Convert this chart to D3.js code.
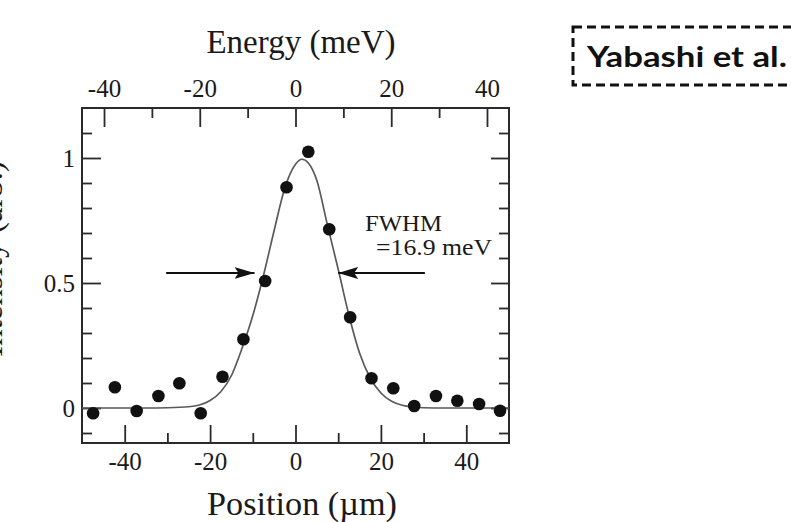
<!DOCTYPE html>
<html>
<head>
<meta charset="utf-8">
<script src="https://cdn.jsdelivr.net/npm/d3@7"></script>
<style>
  html, body { margin: 0; padding: 0; background: #fff; }
  svg { display: block; }
</style>
</head>
<body>
<svg id="chart" width="791" height="522"></svg>
<script>
// Measured intensity at each slit position (µm)
const positionUm = [-47.4, -42.3, -37.2, -32.1, -27.2, -22.2, -17.1, -12.2, -7.1, -2.1,
                    3.0, 7.9, 12.8, 17.8, 22.9, 27.8, 32.9, 37.9, 43.0, 47.9];
const intensity  = [-0.021, 0.083, -0.012, 0.048, 0.099, -0.021, 0.125, 0.275, 0.508, 0.883,
                    1.025, 0.715, 0.363, 0.119, 0.079, 0.008, 0.048, 0.029, 0.016, -0.011];

// Fitted profile
const fitX = [-50, -35, -30, -25, -22.5, -20, -17.5, -15, -12.5, -10, -7.5, -5, -2.5, 0, 1.5,
              3, 5, 7.5, 10, 12.5, 15, 17.5, 20, 22.5, 25, 27.5, 30, 35, 50];
const fitY = [0, 0, 0.001, 0.005, 0.012, 0.03, 0.065, 0.13, 0.24, 0.37, 0.53, 0.71, 0.88, 0.975, 0.995,
              0.98, 0.91, 0.73, 0.555, 0.372, 0.22, 0.12, 0.06, 0.027, 0.011, 0.004, 0.001, 0, 0];

// Axis ticks
const posMajor = [-40, -20, 0, 20, 40];
const posMinor = [-30, -10, 10, 30];
const enMajor = [-40, -20, 0, 20, 40];
const enMinor = [-30, -10, 10, 30];
const intMajor = [0, 0.5, 1];
const intMinor = [-0.1, 0.1, 0.2, 0.3, 0.4, 0.6, 0.7, 0.8, 0.9, 1.1];

// FWHM annotation (half-maximum marker level and arrow extents in µm)
const fwhmLevel = 0.54;
const leftArrow = [-30.3, -9.6];
const rightArrow = [30.3, 10.0];
const fwhmText = ["FWHM", "=16.9 meV"];

const svg = d3.select("#chart");
const L = 82, R = 509, T = 108, B = 443;

const x = d3.scaleLinear().domain([-50, 50]).range([L, R]);
const xE = d3.scaleLinear().domain([-44.6, 44.6]).range([L, R]);
const y = d3.scaleLinear().domain([-0.14, 1.2]).range([B, T]);

const serif = "'Liberation Serif', 'Times New Roman', serif";
const ink = "#2a2a2a";

function styleAxis(g, fontSize) {
  g.select(".domain").remove();
  g.selectAll(".tick line").attr("stroke", ink).attr("stroke-width", 1.8);
  g.selectAll(".tick text").attr("font-family", serif).attr("font-size", fontSize).attr("fill", "#1a1a1a");
}
const fmt = d => (d < 0 ? "-" : "") + Math.abs(d);

// Bottom (position) axis
svg.append("g").attr("transform", `translate(0,${B})`)
  .call(d3.axisBottom(x).tickValues(posMajor).tickSize(-18).tickPadding(9).tickFormat(fmt))
  .call(g => styleAxis(g, 25));
svg.append("g").attr("transform", `translate(0,${B})`)
  .call(d3.axisBottom(x).tickValues(posMinor).tickSize(-10).tickFormat(""))
  .call(g => styleAxis(g, 25));

// Top (energy) axis
svg.append("g").attr("transform", `translate(0,${T})`)
  .call(d3.axisTop(xE).tickValues(enMajor).tickSize(-19).tickPadding(11).tickFormat(fmt))
  .call(g => styleAxis(g, 25));
svg.append("g").attr("transform", `translate(0,${T})`)
  .call(d3.axisTop(xE).tickValues(enMinor).tickSize(-10).tickFormat(""))
  .call(g => styleAxis(g, 25));

// Left axis
svg.append("g").attr("transform", `translate(${L},0)`)
  .call(d3.axisLeft(y).tickValues(intMajor).tickSize(-19).tickPadding(7).tickFormat(d3.format("")))
  .call(g => styleAxis(g, 25));
svg.append("g").attr("transform", `translate(${L},0)`)
  .call(d3.axisLeft(y).tickValues(intMinor).tickSize(-10).tickFormat(""))
  .call(g => styleAxis(g, 25));

// Right axis (ticks only)
svg.append("g").attr("transform", `translate(${R},0)`)
  .call(d3.axisRight(y).tickValues(intMajor).tickSize(-18).tickFormat(""))
  .call(g => styleAxis(g, 25));
svg.append("g").attr("transform", `translate(${R},0)`)
  .call(d3.axisRight(y).tickValues(intMinor).tickSize(-10).tickFormat(""))
  .call(g => styleAxis(g, 25));

// Frame
svg.append("rect")
  .attr("x", L).attr("y", T).attr("width", R - L).attr("height", B - T)
  .attr("fill", "none").attr("stroke", ink).attr("stroke-width", 2);

// Fit curve
const line = d3.line().x(d => x(d[0])).y(d => y(d[1])).curve(d3.curveMonotoneX);
svg.append("path")
  .datum(fitX.map((v, i) => [v, fitY[i]]))
  .attr("d", line)
  .attr("fill", "none").attr("stroke", "#5a5a5a").attr("stroke-width", 1.7);

// Data points
svg.append("g").selectAll("circle")
  .data(positionUm.map((v, i) => [v, intensity[i]]))
  .join("circle")
  .attr("cx", d => x(d[0])).attr("cy", d => y(d[1])).attr("r", 6.3)
  .attr("fill", "#111");

// FWHM arrows
svg.append("defs").append("marker")
  .attr("id", "head").attr("viewBox", "0 0 20 12")
  .attr("refX", 20).attr("refY", 6)
  .attr("markerWidth", 20).attr("markerHeight", 12)
  .attr("markerUnits", "userSpaceOnUse").attr("orient", "auto")
  .append("path").attr("d", "M0,0 L20,6 L0,12 L4,6 Z").attr("fill", "#111");

[leftArrow, rightArrow].forEach(a => {
  svg.append("line")
    .attr("x1", x(a[0])).attr("x2", x(a[1]))
    .attr("y1", y(fwhmLevel)).attr("y2", y(fwhmLevel))
    .attr("stroke", "#111").attr("stroke-width", 2)
    .attr("marker-end", "url(#head)");
});

svg.append("text").attr("x", 365).attr("y", 231)
  .attr("font-family", serif).attr("font-size", 24).attr("fill", "#1a1a1a")
  .attr("textLength", 77).attr("lengthAdjust", "spacingAndGlyphs")
  .text(fwhmText[0]);
svg.append("text").attr("x", 376).attr("y", 255)
  .attr("font-family", serif).attr("font-size", 24).attr("fill", "#1a1a1a")
  .attr("textLength", 116).attr("lengthAdjust", "spacingAndGlyphs")
  .text(fwhmText[1]);

// Axis titles
svg.append("text").attr("x", 301).attr("y", 53).attr("text-anchor", "middle")
  .attr("font-family", serif).attr("font-size", 33).attr("fill", "#1a1a1a")
  .text("Energy (meV)");
svg.append("text").attr("x", 302).attr("y", 515).attr("text-anchor", "middle")
  .attr("font-family", serif).attr("font-size", 33).attr("fill", "#1a1a1a")
  .attr("textLength", 190).attr("lengthAdjust", "spacingAndGlyphs")
  .text("Position (µm)");
svg.append("text")
  .attr("transform", "translate(2,259) rotate(-90)")
  .attr("text-anchor", "middle")
  .attr("font-family", serif).attr("font-size", 33).attr("fill", "#1a1a1a")
  .text("Intensity (arb.)");

// Source tag
svg.append("rect")
  .attr("x", 573).attr("y", 27).attr("width", 260).attr("height", 58)
  .attr("fill", "none").attr("stroke", "#111").attr("stroke-width", 3)
  .attr("stroke-dasharray", "9,5");
svg.append("text").attr("x", 587).attr("y", 67)
  .attr("font-family", "Lato, 'Open Sans', sans-serif").attr("font-weight", 700)
  .attr("font-size", 28).attr("fill", "#111")
  .attr("textLength", 200).attr("lengthAdjust", "spacingAndGlyphs")
  .text("Yabashi et al.");
</script>
</body>
</html>
